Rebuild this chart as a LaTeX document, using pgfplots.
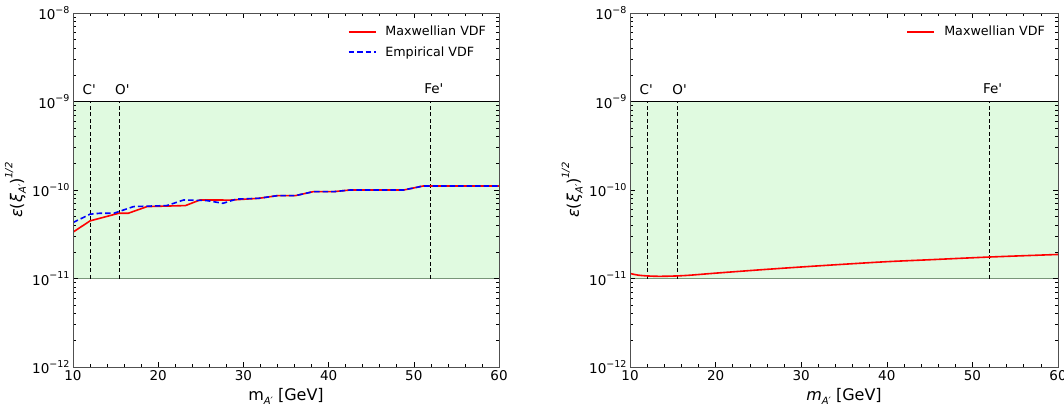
\documentclass[border=0pt]{standalone}
\usepackage{pgfplots}
\pgfplotsset{compat=1.18}
\usepackage{fontspec}
\setmainfont{DejaVu Sans}
\definecolor{bandgreen}{RGB}{224,250,224}
\definecolor{bandedge}{RGB}{120,150,120}
\definecolor{axgray}{RGB}{80,80,80}
\newcommand\pw[1]{10\raisebox{0.85ex}{\fontsize{9.5}{10}\selectfont −#1}}
\newcommand\sub[1]{\raisebox{-0.45ex}{\fontsize{10}{10}\selectfont\itshape #1}}
\newcommand\sups[1]{\raisebox{1.1ex}{\fontsize{10}{10}\selectfont\itshape #1}}
\newcommand\ap{\textquotesingle}
\pgfplotsset{myax/.style={
  scale only axis, height=354pt,
  xmin=10, xmax=60, ymin=1e-12, ymax=1e-8,
  xtick={10,20,...,60}, minor x tick num=4,
  ytick={1e-12,1e-11,1e-10,1e-9,1e-8},
  yticklabels={\pw{12},\pw{11},\pw{10},\pw{9},\pw{8}},
  tick align=inside, xtick pos=both, ytick pos=both,
  axis line style={draw=axgray, line width=1pt},
  every tick/.style={black, line width=0.6pt},
  major tick length=5pt, minor tick length=3pt,
  tick label style={font=\fontsize{13.5}{15}\selectfont},
  label style={font=\fontsize{16}{18}\selectfont},
  axis on top,
  ylabel style={at={(axis description cs:-0.135,0.5)}, anchor=center},
  xlabel style={at={(axis description cs:0.5,0)}, yshift=-29pt, anchor=center},
  legend style={draw=none, fill=none, font=\fontsize{12.7}{14}\selectfont,
    at={(0.97,0.963)}, anchor=north east, inner sep=0pt,
    nodes={inner sep=0pt}, column sep=9pt, row sep=9pt},
  legend cell align=left,
  legend image code/.code={\draw[##1] (0pt,0pt) -- (27pt,0pt);},
}}
\begin{document}
\begin{tikzpicture}
% left panel
\begin{axis}[ymode=log, myax, /pgf/number format/assume math mode=true,
  at={(73pt,-13pt)}, anchor=north west, width=426pt,
  xlabel={m\sub{A′} [GeV]},
  ylabel={{\itshape ε}({\itshape ξ}\sub{A′})\sups{1/2}}]
\addplot[fill=bandgreen, draw=none, forget plot] coordinates {(10,1e-11) (60,1e-11) (60,1e-9) (10,1e-9) (10,1e-11)};
\addplot[black, line width=0.7pt, forget plot] coordinates {(10,1e-9) (60,1e-9)};
\addplot[bandedge, line width=0.7pt, forget plot] coordinates {(10,1e-11) (60,1e-11)};
\addplot[black, line width=0.8pt, dash pattern=on 4pt off 2.5pt, forget plot] coordinates {(12,1e-11) (12,1e-9)};
\addplot[black, line width=0.8pt, dash pattern=on 4pt off 2.5pt, forget plot] coordinates {(15.5,1e-11) (15.5,1e-9)};
\addplot[black, line width=0.8pt, dash pattern=on 4pt off 2.5pt, forget plot] coordinates {(52,1e-11) (52,1e-9)};
\node[font=\fontsize{13.5}{15}\selectfont] at (axis cs:11.9,1.38e-9) {C\ap};
\node[font=\fontsize{13.5}{15}\selectfont] at (axis cs:15.8,1.38e-9) {O\ap};
\node[font=\fontsize{13.5}{15}\selectfont] at (axis cs:52.35,1.38e-9) {Fe\ap};
\addplot[red, line width=1.6pt] coordinates {(10,3.34e-11) (12,4.48e-11) (15.4,5.47e-11) (16.5,5.47e-11) (18.7,6.5e-11) (23.2,6.67e-11) (24.9,7.72e-11) (28.5,7.7e-11) (31.8,8.06e-11) (34,8.64e-11) (36.1,8.64e-11) (38.2,9.58e-11) (40.6,9.58e-11) (42.5,1.0e-10) (48.8,1.0e-10) (51.1,1.11e-10) (60,1.11e-10)};
\addlegendentry{Maxwellian VDF}
\addplot[blue, line width=1.6pt, dash pattern=on 5.5pt off 3pt] coordinates {(10,4.29e-11) (12,5.33e-11) (13.2,5.47e-11) (14.8,5.47e-11) (15.6,5.8e-11) (17.1,6.5e-11) (21,6.67e-11) (23,7.72e-11) (25.7,7.6e-11) (27.6,7.08e-11) (29.2,7.9e-11) (31.8,8.06e-11) (34,8.64e-11) (36.1,8.64e-11) (38.2,9.58e-11) (40.6,9.58e-11) (42.5,1.0e-10) (48.8,1.0e-10) (51.1,1.11e-10) (60,1.11e-10)};
\addlegendentry{Empirical VDF}
\end{axis}
% right panel
\begin{axis}[ymode=log, myax, /pgf/number format/assume math mode=true,
  at={(630pt,-13pt)}, anchor=north west, width=428pt,
  xlabel={{\itshape m}\sub{A′} [GeV]},
  ylabel={{\itshape ε}({\itshape ξ}\sub{A′})\sups{1/2}}]
\addplot[fill=bandgreen, draw=none, forget plot] coordinates {(10,1e-11) (60,1e-11) (60,1e-9) (10,1e-9) (10,1e-11)};
\addplot[black, line width=0.7pt, forget plot] coordinates {(10,1e-9) (60,1e-9)};
\addplot[bandedge, line width=0.7pt, forget plot] coordinates {(10,1e-11) (60,1e-11)};
\addplot[black, line width=0.8pt, dash pattern=on 4pt off 2.5pt, forget plot] coordinates {(12,1e-11) (12,1e-9)};
\addplot[black, line width=0.8pt, dash pattern=on 4pt off 2.5pt, forget plot] coordinates {(15.5,1e-11) (15.5,1e-9)};
\addplot[black, line width=0.8pt, dash pattern=on 4pt off 2.5pt, forget plot] coordinates {(52,1e-11) (52,1e-9)};
\node[font=\fontsize{13.5}{15}\selectfont] at (axis cs:11.9,1.38e-9) {C\ap};
\node[font=\fontsize{13.5}{15}\selectfont] at (axis cs:15.8,1.38e-9) {O\ap};
\node[font=\fontsize{13.5}{15}\selectfont] at (axis cs:52.35,1.38e-9) {Fe\ap};
\addplot[red, line width=1.6pt, smooth] coordinates {(10,1.14e-11) (11,1.09e-11) (12,1.07e-11) (13,1.06e-11) (14,1.06e-11) (15.5,1.07e-11) (17,1.09e-11) (20,1.15e-11) (25,1.25e-11) (30,1.35e-11) (35,1.45e-11) (40,1.55e-11) (45,1.63e-11) (52,1.75e-11) (60,1.87e-11)};
\addlegendentry{Maxwellian VDF}
\end{axis}
\pgfresetboundingbox
\path[use as bounding box] (0pt,0pt) rectangle (1064pt,-405pt);
\end{tikzpicture}
\end{document}
